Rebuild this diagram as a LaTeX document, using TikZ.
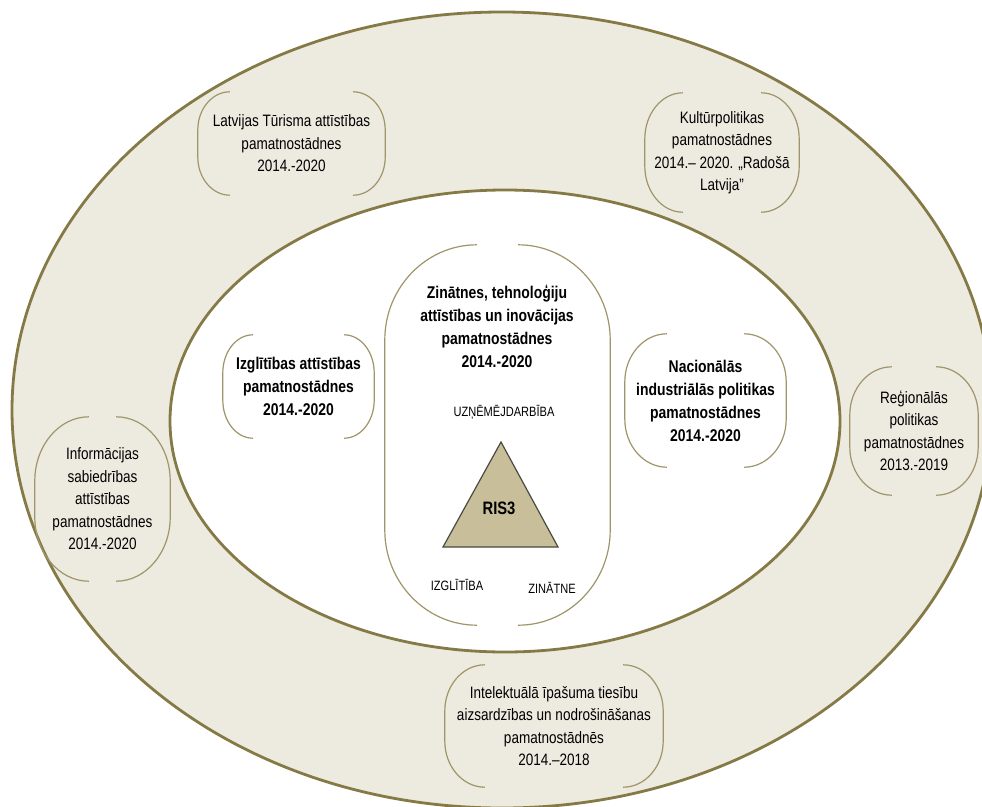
\documentclass[tikz,border=0pt]{standalone}
\usepackage{fontspec}
\setmainfont{Liberation Sans}[FakeStretch=0.82]
\usetikzlibrary{positioning}
\definecolor{ringfill}{HTML}{EDEAE0}
\definecolor{ringline}{HTML}{857A45}
\definecolor{brline}{HTML}{A0956A}
\definecolor{trifill}{HTML}{C8BE9A}
\definecolor{triline}{HTML}{4A4A40}
\newcommand{\brk}[3]{%
 \draw[brkline] ([xshift=#2]#1.north west) .. controls ([xshift=0.45*#2]#1.north west) and ([yshift=-0.45*#3]#1.north west) .. ([yshift=-#3]#1.north west)
   -- ([yshift=#3]#1.south west) .. controls ([yshift=0.45*#3]#1.south west) and ([xshift=0.45*#2]#1.south west) .. ([xshift=#2]#1.south west);
 \draw[brkline] ([xshift=-#2]#1.north east) .. controls ([xshift=-0.45*#2]#1.north east) and ([yshift=-0.45*#3]#1.north east) .. ([yshift=-#3]#1.north east)
   -- ([yshift=#3]#1.south east) .. controls ([yshift=0.45*#3]#1.south east) and ([xshift=-0.45*#2]#1.south east) .. ([xshift=-#2]#1.south east);
}
\begin{document}
\begin{tikzpicture}[x=1pt,y=-1pt,
  brkline/.style={draw=brline,line width=1.2pt},
  bbox/.style={inner sep=0pt,align=center,font=\fontsize{16.5}{22.5}\selectfont},
  cbox/.style={bbox,font=\fontsize{17}{23}\selectfont\bfseries},
  caps/.style={inner sep=0pt,font=\fontsize{13.5}{16}\selectfont}]
\useasboundingbox (0,0) rectangle (982,806);
\fill[white] (0,0) rectangle (982,806);
% rings
\draw[fill=ringfill,draw=ringline,line width=2.8pt] (502,410) ellipse [x radius=490,y radius=398];
\draw[fill=white,draw=ringline,line width=2.8pt] (505,421) ellipse [x radius=335,y radius=231];
% outer boxes
\node[bbox,minimum width=187pt,minimum height=103pt] (tur) at (291.5,143.5) {Latvijas Tūrisma attīstības\\pamatnostādnes\\2014.-2020};
\brk{tur}{32pt}{38pt}
\node[bbox,minimum width=154pt,minimum height=119pt] (kul) at (722,152.5) {Kultūrpolitikas\\pamatnostādnes\\2014.– 2020. „Radošā\\Latvija”};
\brk{kul}{38pt}{46pt}
\node[bbox,minimum width=128pt,minimum height=128pt] (reg) at (914,431) {Reģionālās\\politikas\\pamatnostādnes\\2013.-2019};
\brk{reg}{42pt}{48pt}
\node[bbox,minimum width=135pt,minimum height=164pt] (inf) at (102.5,499) {Informācijas\\sabiedrības\\attīstības\\pamatnostādnes\\2014.-2020};
\brk{inf}{54pt}{64pt}
\node[bbox,minimum width=218pt,minimum height=122pt] (int) at (554,726) {Intelektuālā īpašuma tiesību\\aizsardzības un nodrošināšanas\\pamatnostādnēs\\2014.–2018};
\brk{int}{40pt}{46pt}
% inner boxes
\node[cbox,minimum width=151pt,minimum height=103pt] (izg) at (298.5,386.5) {Izglītības attīstības\\pamatnostādnes\\2014.-2020};
\brk{izg}{30pt}{38pt}
\node[cbox,minimum width=161pt,minimum height=133pt] (nac) at (705.5,400.5) {Nacionālās\\industriālās politikas\\pamatnostādnes\\2014.-2020};
\brk{nac}{42pt}{48pt}
\node[inner sep=0pt,minimum width=225pt,minimum height=380pt] (zin) at (497.5,435) {};
\brk{zin}{92pt}{95pt}
\node[cbox] (zint) at (497,326) {Zinātnes, tehnoloģiju\\attīstības un inovācijas\\pamatnostādnes\\2014.-2020};
% triangle
\coordinate (ta) at (501,442);
\coordinate (tl) at (443,547);
\coordinate (tr) at (558,547);
\draw[fill=trifill,draw=triline,line width=1.2pt,line join=miter] (ta) -- (tl) -- (tr) -- cycle;
\node[inner sep=0pt,font=\fontsize{18}{20}\selectfont\bfseries] (ris) at (499,508) {RIS3};
\node[caps] (uzn) at (504,412) {UZŅĒMĒJDARBĪBA};
\node[caps] (izgl) at (457,585) {IZGLĪTĪBA};
\node[caps] (zinl) at (552,588) {ZINĀTNE};
\end{tikzpicture}
\end{document}
